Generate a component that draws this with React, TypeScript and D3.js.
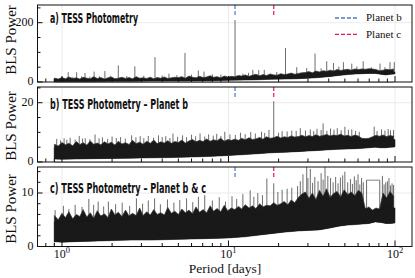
import React from "react";
import * as d3 from "d3";

// periods in days, powers
const planetPeriods = { b: 10.95, c: 18.7 };

const samplePeriods = [
	0.9, 0.95, 1.0, 1.05, 1.1, 1.16, 1.22, 1.28, 1.34, 1.41, 1.48, 1.55, 1.63, 1.71, 1.8, 1.89, 1.98, 2.08, 2.18, 2.29,
	2.41, 2.53, 2.65, 2.79, 2.93, 3.07, 3.23, 3.39, 3.56, 3.73, 3.92, 4.12, 4.32, 4.54, 4.76, 5.0, 5.25, 5.51, 5.79, 6.08,
	6.38, 6.7, 7.04, 7.39, 7.76, 8.14, 8.55, 8.98, 9.43, 9.9, 10.4, 10.9, 11.5, 12.0, 12.6, 13.3, 13.9, 14.6, 15.4, 16.1,
	16.9, 17.8, 18.7, 19.6, 20.6, 21.6, 22.7, 23.8, 25.0, 26.3, 27.6, 29.0, 30.4, 31.9, 33.5, 35.2, 37.0, 38.8, 40.8, 42.8,
	44.9, 47.2, 49.5, 52.0, 54.6, 57.4, 60.2, 63.2, 66.4, 69.7, 73.2, 76.9, 80.7, 84.8, 89.0, 93.4, 98.1,
];

const bandPeriods = [0.9, 1.0, 1.2, 1.5, 2.0, 2.6, 3.4, 4.5, 6, 8, 10, 12.5, 15, 18, 22, 26, 30, 35, 40, 46, 52, 58, 64, 70, 76, 82, 88, 94, 100];

// panel a
const lowA = [2, 1.5, 2, 2, 2.5, 2.5, 3, 3, 3.5, 4.5, 5.5, 6.5, 7.5, 9, 10, 11, 12.5, 15, 18, 22, 25, 27, 28, 29, 29, 26, 24, 26, 27];
const highA = [8, 7, 7, 7, 7.5, 8, 8, 9, 9.5, 10, 11, 12, 13, 15, 17, 19, 21, 24, 27, 30, 33, 34, 35, 35, 35, 33, 31, 33, 34];
const noiseA = [
	13, 10, 15, 11, 17, 12, 14, 10, 16, 13, 11, 18, 12, 15, 10, 14, 17, 11, 13, 16,
	12, 15, 11, 18, 13, 14, 12, 16, 11, 15, 13, 17, 12, 14, 16, 15, 18, 13, 20, 16,
	14, 19, 15, 17, 21, 16, 18, 14, 20, 17, 19, 18, 22, 20, 24, 19, 23, 26, 21, 25,
	22, 27, 24, 23, 28, 25, 27, 30, 26, 29, 31, 32, 35, 31, 37, 34, 38, 36, 40, 37,
	42, 39, 41, 43, 40, 44, 42, 44, 43, 45, 44, 42, 38, 40, 43, 41, 44,
];
const peaksA: [number, number][] = [
	[0.92, 14], [1.0, 17], [1.09, 33], [1.16, 16], [1.225, 33], [1.31, 19], [1.375, 30], [1.47, 18], [1.56, 35], [1.68, 19],
	[1.81, 37], [1.95, 21], [2.18, 56], [2.45, 20], [2.74, 53], [3.1, 21], [3.62, 84], [4.0, 22], [4.39, 28], [4.9, 23],
	[5.48, 98], [6.0, 25], [6.59, 39], [7.13, 35], [8.0, 26], [9.0, 25], [10.95, 209], [12.2, 28], [13.2, 31], [14, 41],
	[15.2, 40], [16.4, 41], [19.5, 34], [22.0, 115], [25.7, 50], [29.5, 47], [33.1, 96], [36, 46], [38.9, 70], [42.7, 64],
	[46, 52], [49, 67], [55, 62], [59, 52], [64.4, 70], [72, 50], [81.3, 62], [87, 50], [93.3, 67], [99, 67],
];

// panel b
const lowB = [1.0, 0.9, 1.0, 1.1, 1.2, 1.3, 1.4, 1.5, 1.7, 1.9, 2.2, 2.5, 2.8, 3.1, 3.3, 3.5, 3.7, 3.9, 4.1, 4.3, 4.4, 4.5, 4.6, 4.8, 5.0, 4.8, 4.8, 5.0, 5.1];
const highB = [4.8, 4.7, 4.8, 4.9, 5.0, 5.1, 5.2, 5.4, 5.5, 5.7, 5.9, 6.1, 6.3, 6.6, 6.9, 7.1, 7.3, 7.5, 7.6, 7.7, 7.6, 7.5, 7.3, 7.2, 7.2, 7.4, 7.6, 7.5, 7.6];
const noiseB = [
	6.0, 5.4, 6.6, 5.8, 6.3, 5.5, 6.9, 5.9, 6.5, 5.7, 7.1, 6.0, 6.4, 5.8, 6.8, 6.1, 6.7, 5.7, 7.0, 6.1,
	6.5, 5.9, 7.3, 6.2, 6.7, 6.0, 7.0, 6.3, 7.4, 6.2, 6.8, 6.4, 7.2, 6.3, 6.9, 6.6, 7.4, 6.4, 7.1, 7.6,
	6.8, 7.3, 6.9, 7.8, 7.0, 7.5, 7.2, 8.0, 7.0, 7.6, 7.3, 7.7, 7.3, 8.0, 7.5, 8.2, 7.6, 7.8, 8.3, 7.7,
	8.5, 8.0, 8.2, 8.7, 8.1, 8.5, 8.3, 8.8, 8.4, 8.6, 9.0, 8.5, 8.9, 8.6, 9.2, 8.7, 8.9, 9.3, 8.8, 9.1,
	8.9, 9.4, 8.8, 9.0, 8.6, 9.1, 8.8, 8.0, 7.9, 8.0, 8.5, 9.0, 8.7, 9.1, 8.6, 8.9, 8.7,
];
const peaksB: [number, number][] = [
	[0.93, 7.8], [0.98, 7.3], [1.03, 8.0], [1.07, 7.5], [1.12, 8.2], [1.2, 7.6], [1.27, 8.8], [1.33, 7.9], [1.38, 8.0], [1.47, 7.7],
	[1.58, 9.3], [1.67, 8.0], [1.75, 8.3], [1.88, 7.8], [2.0, 8.6], [2.12, 8.1], [2.25, 8.4], [2.4, 7.9], [2.62, 9.0], [2.78, 8.3],
	[2.95, 8.7], [3.1, 8.0], [3.3, 8.8], [3.55, 8.2], [3.8, 9.0], [4.0, 8.4], [4.2, 8.7], [4.45, 8.1], [4.64, 9.6], [4.95, 8.5],
	[5.3, 9.0], [5.6, 8.4], [6.0, 9.2], [6.35, 8.7], [6.75, 9.6], [7.2, 8.6], [7.6, 9.3], [8.1, 8.9], [8.5, 9.5], [9.0, 8.8],
	[9.5, 10.2], [10.2, 9.3], [11.0, 9.1], [11.8, 9.9], [12.6, 9.4], [13.6, 10.1], [14.5, 9.6], [15.8, 10.2], [16.5, 9.8], [17.5, 10.8],
	[18.7, 20.5], [20, 9.9], [21, 10.4], [22.5, 10.3], [24, 10.6], [25.5, 10.5], [27, 11.4], [29, 10.6], [31, 11.0], [32.5, 10.4],
	[34, 11.2], [36, 10.8], [37, 13.0], [39, 10.5], [41, 11.3], [43, 10.9], [45, 11.4], [47.5, 10.7], [50, 11.9], [52.5, 10.9],
	[55, 11.0], [58, 10.5], [61, 10.2], [75, 11.9], [78, 10.4], [83, 11.0], [87, 10.6], [91, 11.1], [94, 10.7], [98, 10.8],
];

// panel c
const lowC = [0.9, 0.8, 0.9, 1.0, 1.1, 1.2, 1.2, 1.3, 1.4, 1.5, 1.6, 1.8, 2.1, 2.4, 2.7, 2.9, 3.0, 3.1, 3.4, 3.8, 4.0, 4.1, 4.2, 4.3, 4.6, 4.5, 4.3, 4.3, 4.4];
const highC = [4.6, 4.6, 4.7, 4.7, 4.8, 4.9, 5.0, 5.1, 5.2, 5.3, 5.5, 5.7, 6.0, 6.3, 6.7, 7.2, 7.6, 7.8, 7.8, 8.0, 7.8, 7.6, 7.5, 6.6, 6.5, 6.9, 7.3, 7.3, 7.2];
const noiseC = [
	5.8, 5.0, 6.2, 5.4, 6.5, 5.2, 6.0, 5.6, 6.9, 5.5, 6.3, 5.3, 6.7, 5.7, 6.1, 5.4, 7.0, 5.9, 6.4, 5.6,
	6.8, 5.7, 6.2, 5.8, 7.2, 5.8, 6.5, 5.9, 6.9, 6.0, 6.3, 5.9, 7.3, 6.2, 6.6, 6.0, 7.0, 6.3, 6.8, 6.1,
	7.4, 6.4, 6.9, 6.3, 7.6, 6.6, 7.1, 6.5, 7.7, 6.7, 7.2, 6.9, 7.5, 7.0, 7.8, 7.2, 7.6, 7.1, 8.0, 7.4,
	7.7, 7.6, 8.2, 7.7, 8.0, 8.4, 7.8, 8.7, 8.2, 9.2, 9.8, 10.2, 9.0, 10.0, 8.8, 10.5, 9.4, 10.8, 9.2, 9.9,
	10.3, 9.3, 10.6, 9.7, 10.2, 9.5, 10.5, 10.0, 7.0, 7.4, 6.8, 7.2, 7.0, 10.0, 9.1, 10.3, 9.4,
];
const peaksC: [number, number][] = [
	[0.91, 6.8], [1.02, 7.6], [1.1, 7.0], [1.2, 7.8], [1.32, 7.4], [1.45, 8.9], [1.55, 7.8], [1.65, 8.4], [1.78, 7.5], [1.9, 8.4],
	[2.1, 7.9], [2.3, 8.2], [2.55, 7.6], [2.8, 9.0], [3.05, 8.0], [3.3, 8.6], [3.6, 9.0], [3.9, 7.9], [4.3, 8.8], [4.7, 8.2],
	[5.1, 8.7], [5.6, 9.0], [6.1, 8.3], [6.6, 9.3], [7.2, 9.6], [8.0, 8.6], [8.8, 9.2], [9.6, 8.4], [10.5, 9.4], [11.2, 8.9],
	[12.2, 9.8], [13.5, 10.5], [14.2, 9.3], [15, 10.0], [16, 9.6], [17, 12.7], [18.7, 11.8], [19.8, 10.2], [21, 10.6], [22.5, 10.8],
	[24, 11], [26, 11.3], [27, 12.2], [28, 13.5], [29.5, 14.9], [30, 12.8], [31, 14.5], [32, 11.9], [33, 13.0], [34.5, 12.2],
	[36, 13.7], [37, 12.5], [38, 14.9], [39.5, 13.2], [41, 12.8], [42.5, 12.0], [44, 13], [45.5, 11.8], [47, 12.9], [48.5, 13.3],
	[50, 14], [52, 12.0], [54, 12.6], [55.5, 11.7], [57, 13.1], [58.5, 12.4], [60, 13.5], [61.5, 11.6], [63, 12.8], [64.5, 12.0],
	[67.5, 12.4], [81, 12.4], [84, 13.2], [86, 11.6], [88, 12.0], [90, 12.2], [92, 12.8], [94, 11.4], [96, 11.8], [98, 11.5],
];
const flatC: [number, number][] = [[67.5, 12.4], [81, 12.4]];

const W = 415;
const H = 278;
const xLeft = 37.5;
const xRight = 412;

interface Panel {
	label: string;
	labelWidth: number;
	labelY: number;
	top: number;
	bottom: number;
	yMax: number;
	major: number[];
	minor: number[];
	low: number[];
	high: number[];
	noise: number[];
	peaks: [number, number][];
	flat?: [number, number][];
	ylabelY: number;
}

const panels: Panel[] = [
	{ label: "a) TESS Photometry", labelWidth: 88, labelY: 23, top: 5, bottom: 82, yMax: 259.7, major: [0, 200], minor: [50, 100, 150, 250],
		low: lowA, high: highA, noise: noiseA, peaks: peaksA, ylabelY: 40 },
	{ label: "b) TESS Photometry \u2013 Planet b", labelWidth: 138, labelY: 108.5, top: 87, bottom: 162, yMax: 25.3, major: [0, 20], minor: [5, 10, 15, 25],
		low: lowB, high: highB, noise: noiseB, peaks: peaksB, ylabelY: 126 },
	{ label: "c) TESS Photometry \u2013 Planet b & c", labelWidth: 156, labelY: 192.5, top: 167, bottom: 246.5, yMax: 14.86, major: [0, 10], minor: [2, 4, 6, 8, 12, 14],
		low: lowC, high: highC, noise: noiseC, peaks: peaksC, flat: flatC, ylabelY: 209 },
];

const blue = "#4a7cc6";
const crimson = "#e3184f";
const serif = "'Liberation Serif', 'DejaVu Serif', serif";

export default function App() {
	const x = d3.scaleLog().domain([0.713, 126.5]).range([xLeft, xRight]);
	const xTicks = x.ticks();
	const xMajor = [1, 10, 100];

	return (
		<div>
			<style>{`body{margin:0}`}</style>
			<svg width={W} height={H} style={{ display: "block" }}>
				{panels.map((p, pi) => {
					const y = d3.scaleLinear().domain([0, p.yMax]).range([p.bottom, p.top]).clamp(true);
					const band = d3
						.area<number>()
						.x((d) => x(d))
						.y0((_, i) => y(p.low[i]))
						.y1((_, i) => y(p.high[i]));
					const noiseArea = d3
						.area<number>()
						.x((d) => x(d))
						.y0(p.bottom)
						.y1((_, i) => y(p.noise[i]));
					const mask = d3
						.area<number>()
						.x((d) => x(d))
						.y0(p.bottom)
						.y1((_, i) => y(p.low[i]));
					const flatLine = d3
						.line<[number, number]>()
						.x((d) => x(d[0]))
						.y((d) => y(d[1]));
					return (
						<g key={pi}>
							{/* grid */}
							<g stroke="#e6e6e6" strokeWidth={0.8}>
								{xMajor.map((t) => (
									<line key={t} x1={x(t)} x2={x(t)} y1={p.top} y2={p.bottom} />
								))}
								<line x1={xLeft} x2={xRight} y1={y(p.major[1])} y2={y(p.major[1])} />
							</g>
							{/* peaks run down to the axis, the white mask trims them under the band */}
							<g stroke="#474747" strokeWidth={0.8}>
								{p.peaks.map((s, i) => (
									<line key={i} x1={x(s[0])} x2={x(s[0])} y1={y(s[1])} y2={p.bottom} />
								))}
							</g>
							<path d={noiseArea(samplePeriods) || undefined} fill="#191919" stroke="#3a3a3a" strokeWidth={0.7} />
							{p.flat && <path d={flatLine(p.flat) || undefined} fill="none" stroke="#777" strokeWidth={0.9} />}
							<path d={mask(bandPeriods) || undefined} fill="#fff" />
							<path d={band(bandPeriods) || undefined} fill="#191919" stroke="#191919" strokeWidth={0.5} />

							{/* planet markers */}
							<line x1={x(planetPeriods.b)} x2={x(planetPeriods.b)} y1={p.top} y2={p.top + (p.bottom - p.top) * 0.15}
								stroke={blue} strokeWidth={1.2} strokeDasharray="4,2" />
							<line x1={x(planetPeriods.c)} x2={x(planetPeriods.c)} y1={p.top} y2={p.top + (p.bottom - p.top) * 0.15}
								stroke={crimson} strokeWidth={1.2} strokeDasharray="4,2" />

							<rect x={xLeft} y={p.top} width={xRight - xLeft} height={p.bottom - p.top} fill="none" stroke="#111" strokeWidth={1} />

							{/* y ticks */}
							<g stroke="#111" strokeWidth={1}>
								{p.major.map((t) => (
									<line key={"M" + t} x1={xLeft} x2={xLeft + 5} y1={y(t)} y2={y(t)} />
								))}
								{p.minor.map((t) => (
									<line key={"m" + t} x1={xLeft} x2={xLeft + 3} y1={y(t)} y2={y(t)} />
								))}
							</g>
							{p.major.map((t) => (
								<text key={"l" + t} x={33.5} y={y(t) - 1} dy="0.35em" textAnchor="end" fontFamily={serif} fontSize={12} fill="#111">
									{t}
								</text>
							))}

							{/* x ticks */}
							<g stroke="#111" strokeWidth={1}>
								{xTicks.map((t) => (
									<line key={t} x1={x(t)} x2={x(t)} y1={p.bottom} y2={p.bottom - (xMajor.includes(t) ? 6 : 3.5)} />
								))}
							</g>

							<text x={50} y={p.labelY} fontFamily="'Liberation Sans Narrow', 'DejaVu Sans Condensed', sans-serif" fontWeight="bold"
								fontSize={14} textLength={p.labelWidth} lengthAdjust="spacingAndGlyphs" fill="#111">
								{p.label}
							</text>
							<text transform={`translate(16, ${p.ylabelY}) rotate(-90)`} textAnchor="middle" fontFamily={serif} fontSize={15} fill="#111">
								BLS Power
							</text>
						</g>
					);
				})}

				{/* legend */}
				<line x1={335} x2={357} y1={18} y2={18} stroke={blue} strokeWidth={1.3} strokeDasharray="4,2" />
				<text x={366} y={21} fontFamily={serif} fontSize={11} fill="#111">Planet b</text>
				<line x1={335} x2={357} y1={34.3} y2={34.3} stroke={crimson} strokeWidth={1.3} strokeDasharray="4,2" />
				<text x={366} y={37.5} fontFamily={serif} fontSize={11} fill="#111">Planet c</text>

				{/* x axis labels */}
				{xMajor.map((t, i) => (
					<text key={t} x={x(t)} y={257.5} textAnchor="middle" fontFamily={serif} fontSize={12} fill="#111">
						10<tspan dy={-5} fontSize={8.5}>{i}</tspan>
					</text>
				))}
				<text x={225} y={273} textAnchor="middle" fontFamily={serif} fontSize={13.5} fill="#111">
					Period [days]
				</text>
			</svg>
		</div>
	);
}
